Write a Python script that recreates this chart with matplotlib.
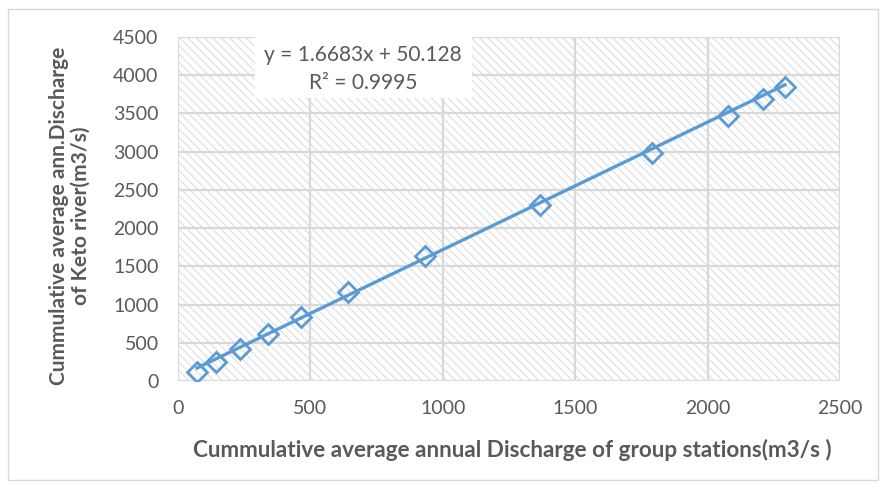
import matplotlib

matplotlib.use("Agg")
import matplotlib.pyplot as plt
import numpy as np
from matplotlib.patches import Rectangle

# cumulative average annual discharge (m3/s)
group_cum = [72, 143, 234, 340, 464, 642, 933, 1367, 1790, 2077, 2209, 2292]
keto_cum = [118, 249, 419, 615, 838, 1165, 1636, 2304, 2984, 3469, 3691, 3848]
slope, intercept = 1.6683, 50.128
eq_text = "y = 1.6683x + 50.128\nR² = 0.9995"

GREY = "#595959"
BLUE = "#5B9BD5"

plt.rcParams["font.family"] = ["Lato", "DejaVu Sans"]
plt.rcParams["hatch.linewidth"] = 0.7

fig = plt.figure(figsize=(8.86, 4.91), dpi=100)
ax = fig.add_axes([178 / 886, 1 - 381 / 491, 662 / 886, 344 / 491])

# hatched plot area
ax.add_patch(Rectangle((0, 0), 1, 1, transform=ax.transAxes, facecolor="white",
                       edgecolor="#dadada", lw=0, hatch="\\\\\\\\", zorder=0))

ax.set_xlim(0, 2500)
ax.set_ylim(0, 4500)
ax.set_xticks(np.arange(0, 2501, 500))
ax.set_yticks(np.arange(0, 4501, 500))
ax.grid(True, color="#d9d9d9", lw=1.6, zorder=1)
ax.set_axisbelow(False)
for s in ax.spines.values():
    s.set_visible(False)
ax.tick_params(length=0, labelsize=14, colors=GREY)
ax.tick_params(axis="x", pad=14)
ax.tick_params(axis="y", pad=14)

xs = np.array([min(group_cum), max(group_cum)])
ax.plot(xs, slope * xs + intercept, color=BLUE, lw=2.4, zorder=3)
ax.plot(group_cum, keto_cum, ls="none", marker="D", ms=10, mfc="none",
        mec=BLUE, mew=2.0, zorder=4)

# equation box
fig.patches.append(Rectangle((255 / 886, 1 - 98 / 491), 217 / 886, 68 / 491,
                             transform=fig.transFigure, facecolor="white",
                             edgecolor="none", zorder=5))
fig.text(363 / 886, 1 - 69 / 491, eq_text, ha="center", va="center",
         fontsize=15, color=GREY, linespacing=1.55, zorder=6)

fig.text(512 / 886, 1 - 450 / 491,
         "Cummulative average annual Discharge of group stations(m3/s )",
         ha="center", va="center", fontsize=16.2, fontweight="bold", color=GREY)
fig.text(70 / 886, 1 - 216 / 491,
         "Cummulative average ann.Discharge\nof Keto river(m3/s)",
         ha="center", va="center", rotation=90, fontsize=15,
         fontweight="bold", color=GREY, linespacing=1.1)

# outer chart border
fig.patches.append(Rectangle((8 / 886, 1 - 480 / 491), 870 / 886, 471 / 491,
                             transform=fig.transFigure, facecolor="none",
                             edgecolor="#d9d9d9", lw=1))

fig.savefig("out.png", dpi=100)
